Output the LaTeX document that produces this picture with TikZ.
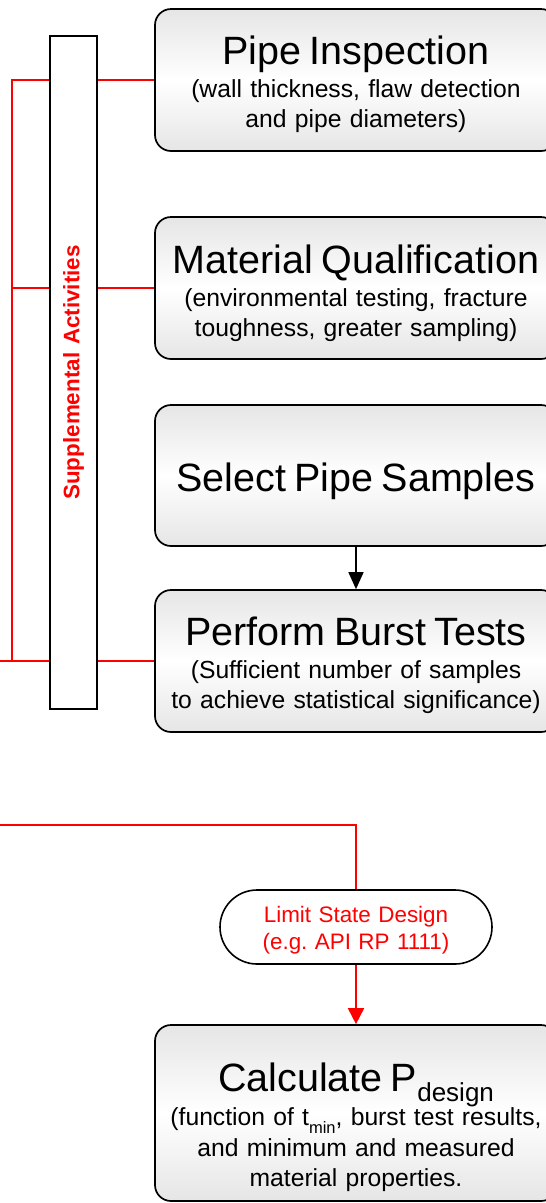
\documentclass[tikz,border=0pt]{standalone}
\usepackage{fontspec}
\setmainfont[WordSpace=1.25]{Liberation Sans}
\usetikzlibrary{arrows.meta}
\frenchspacing
\newcommand\ttlfnt{\fontsize{39.5}{34}\selectfont}
\newcommand\subfnt{\fontsize{24.7}{30.5}\selectfont}
\newcommand\tstrut[1]{\rule{0pt}{#1}}
\begin{document}
\begin{tikzpicture}[x=1pt,y=-1pt,
  stepbox/.style={draw=black, line width=1.7pt, rounded corners=16pt,
    top color=gray!20, bottom color=gray!20, middle color=white,
    minimum width=402pt, text width=392pt, align=center, inner sep=0pt,
    font=\subfnt},
  redline/.style={draw=red, line width=1.8pt},
  termbox/.style={draw=black, line width=1.6pt, rounded corners=37pt, fill=white,
    minimum width=272pt, minimum height=74pt, text width=260pt, align=center,
    inner sep=0pt, text=red, font=\fontsize{22.4}{27}\selectfont},
  suppbox/.style={draw=black, line width=1.8pt, fill=white, minimum width=47pt,
    minimum height=673pt, inner sep=0pt},
  supptext/.style={text=red, rotate=90, font=\fontsize{22.4}{24}\selectfont\bfseries},
  blackarrow/.style={draw=black, line width=1.6pt, -{Triangle[width=15pt,length=17pt]}},
  redarrow/.style={redline, -{Triangle[width=16pt,length=16pt]}}
]
\useasboundingbox (0,0) rectangle (546,1203);
\clip (0,0) rectangle (546,1203);

% coordinates for free ends
\coordinate (spineX) at (12,0);
\coordinate (edgeX) at (0,0);
\coordinate (lowY) at (0,825);

% process boxes
\node[stepbox, minimum height=142pt] (insp) at (356,80)
  {{\ttlfnt\tstrut{37pt}Pipe Inspection\par}\vspace{2.5pt}
   (wall thickness, flaw detection\\and pipe diameters)};
\node[stepbox, minimum height=142pt] (matq) at (356,288)
  {{\ttlfnt\tstrut{39pt}Material Qualification\par}\vspace{2.5pt}
   (environmental testing, fracture\\toughness, greater sampling)};
\node[stepbox, minimum height=141pt] (sel) at (356,475.5)
  {{\ttlfnt\tstrut{40.5pt}Select Pipe Samples\par}};
\node[stepbox, minimum height=142pt] (burst) at (356,661)
  {{\ttlfnt\tstrut{37pt}Perform Burst Tests\par}\vspace{2.5pt}
   (Sufficient number of samples\\to achieve statistical significance)};
\node[stepbox, minimum height=176pt] (calc) at (356,1113)
  {{\ttlfnt\tstrut{57pt}Calculate P\raisebox{-10pt}{\fontsize{26}{26}\selectfont design}\par}
   (function of t\raisebox{-8pt}{\fontsize{16.5}{16.5}\selectfont min}, burst test results,\\and minimum and measured\\material properties.};

% limit state design terminal
\node[termbox] (lsd) at (356,927)
  {\tstrut{23.5pt}Limit State Design\\(e.g. API RP 1111)};

% red connectors on the left
\draw[redline] (burst.west -| spineX) |- (insp.west);
\draw[redline] (matq.west -| spineX) -- (matq.west);
\draw[redline] (burst.west -| edgeX) -- (burst.west);

% supplemental activities bar (drawn over the red lines)
\node[suppbox] (supp) at (73.5,372.5) {};
\node[supptext] (supplabel) at (supp.center) {Supplemental Activities};

% black arrow
\draw[blackarrow] (sel.south) -- (burst.north);

% red path to limit state design and to calculation
\draw[redline] (lowY) -| (lsd.north);
\draw[redarrow] (lsd.south) -- (calc.north);
\end{tikzpicture}
\end{document}
